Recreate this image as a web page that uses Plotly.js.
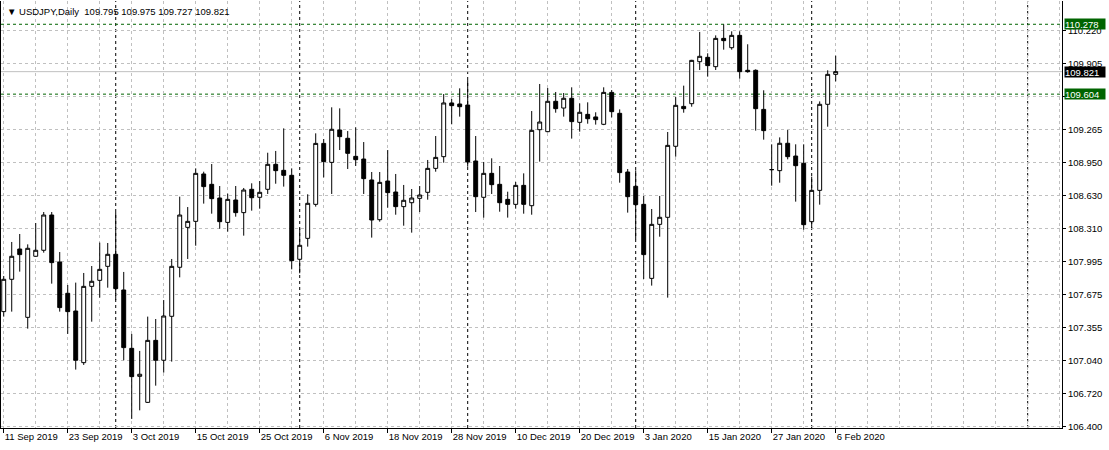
<!DOCTYPE html>
<html>
<head>
<meta charset="utf-8">
<script src="https://cdn.plot.ly/plotly-3.0.1.min.js"></script>
<style>
  html, body { margin: 0; padding: 0; background: #ffffff; }
  #chart { width: 1109px; height: 450px; }
</style>
</head>
<body>
<div id="chart"></div>
<script>
// ---------------- data ----------------
const symbol = "USDJPY";
const timeframe = "Daily";

const opens = [
  107.506, 107.818, 108.110, 107.451, 108.040, 108.098, 108.438, 107.985, 107.683, 107.512,
  107.014, 107.750, 107.808, 107.943, 108.059, 107.715, 107.152, 106.882, 106.631, 107.229,
  107.037, 107.461, 107.934, 108.319, 108.377, 108.834, 108.734, 108.602, 108.367, 108.583,
  108.461, 108.686, 108.609, 108.686, 108.927, 108.869, 108.821, 108.011, 108.213, 108.541,
  109.129, 108.946, 109.258, 109.178, 109.004, 108.978, 108.776, 108.393, 108.766, 108.660,
  108.519, 108.557, 108.599, 108.657, 108.888, 109.001, 109.519, 109.509, 109.499, 108.959,
  108.609, 108.840, 108.734, 108.589, 108.541, 108.724, 108.528, 109.261, 109.242, 109.535,
  109.470, 109.564, 109.332, 109.409, 109.384, 109.313, 109.621, 109.419, 108.853, 108.715,
  108.541, 107.827, 108.348, 108.416, 109.101, 109.486, 109.512, 109.917, 109.959, 109.869,
  110.142, 110.052, 110.171, 109.834, 109.834, 109.457, 108.876, 108.866, 109.130, 109.007,
  108.937, 108.374, 108.676, 109.506, 109.795
];
const highs = [
  107.850, 108.178, 108.255, 108.155, 108.361, 108.467, 108.467, 108.081, 107.763, 107.786,
  107.879, 107.946, 108.172, 108.168, 108.467, 107.889, 107.291, 107.127, 107.458, 107.435,
  107.618, 108.014, 108.615, 108.515, 108.888, 108.856, 108.930, 108.718, 108.644, 108.718,
  108.699, 108.744, 108.766, 109.039, 109.056, 109.274, 108.888, 108.310, 108.638, 109.226,
  109.171, 109.477, 109.467, 109.248, 109.284, 109.142, 108.853, 108.853, 109.065, 108.834,
  108.728, 108.689, 108.718, 108.969, 109.200, 109.605, 109.557, 109.660, 109.740, 109.200,
  108.950, 108.985, 108.911, 108.663, 108.757, 108.840, 109.441, 109.702, 109.663, 109.625,
  109.615, 109.670, 109.515, 109.525, 109.429, 109.670, 109.644, 109.457, 108.882, 108.869,
  108.622, 108.496, 108.622, 109.239, 109.576, 109.686, 109.935, 110.204, 109.998, 110.171,
  110.277, 110.210, 110.210, 110.085, 109.843, 109.641, 109.120, 109.187, 109.258, 109.120,
  109.120, 108.808, 109.534, 109.834, 109.975
];
const lows = [
  107.458, 107.506, 107.892, 107.342, 108.035, 108.075, 107.776, 107.506, 107.291, 106.947,
  106.992, 107.409, 107.641, 107.737, 107.618, 107.037, 106.471, 106.554, 106.625, 106.792,
  106.918, 107.024, 107.837, 108.014, 108.142, 108.548, 108.451, 108.306, 108.278, 108.422,
  108.239, 108.480, 108.499, 108.641, 108.740, 108.712, 107.914, 107.876, 108.133, 108.519,
  108.801, 108.641, 109.065, 108.882, 108.911, 108.641, 108.220, 108.374, 108.509, 108.441,
  108.335, 108.268, 108.467, 108.586, 108.856, 108.943, 109.313, 109.387, 108.904, 108.467,
  108.413, 108.641, 108.470, 108.413, 108.499, 108.451, 108.441, 108.953, 109.236, 109.425,
  109.387, 109.175, 109.242, 109.319, 109.310, 109.305, 109.380, 108.750, 108.461, 108.204,
  107.821, 107.757, 108.229, 107.641, 109.001, 109.425, 109.483, 109.837, 109.773, 109.837,
  110.033, 110.033, 109.753, 109.811, 109.252, 109.165, 108.721, 108.750, 108.975, 108.567,
  108.297, 108.310, 108.538, 109.290, 109.727
];
const closes = [
  107.818, 108.040, 108.056, 108.117, 108.098, 108.438, 107.979, 107.545, 107.506, 107.037,
  107.750, 107.799, 107.914, 108.059, 107.728, 107.159, 106.879, 106.902, 107.229, 107.037,
  107.464, 107.943, 108.438, 108.377, 108.840, 108.712, 108.596, 108.374, 108.589, 108.461,
  108.679, 108.605, 108.657, 108.927, 108.866, 108.821, 107.998, 108.146, 108.551, 109.129,
  108.953, 109.265, 109.194, 109.033, 108.972, 108.789, 108.390, 108.753, 108.654, 108.519,
  108.580, 108.602, 108.631, 108.888, 108.994, 109.519, 109.493, 109.483, 108.950, 108.615,
  108.840, 108.731, 108.557, 108.541, 108.724, 108.541, 109.255, 109.335, 109.535, 109.464,
  109.564, 109.339, 109.429, 109.367, 109.358, 109.621, 109.435, 108.847, 108.615, 108.538,
  108.056, 108.348, 108.416, 109.110, 109.496, 109.464, 109.930, 109.969, 109.879, 110.142,
  110.120, 110.171, 109.821, 109.821, 109.464, 109.252, 108.876, 109.130, 109.001, 108.914,
  108.345, 108.676, 109.506, 109.795, 109.821
];

// date labels, one every 8 bars starting at bar 0
const dateLabels = [
  "11 Sep 2019", "23 Sep 2019", "3 Oct 2019", "15 Oct 2019", "25 Oct 2019",
  "6 Nov 2019", "18 Nov 2019", "28 Nov 2019", "10 Dec 2019", "20 Dec 2019",
  "3 Jan 2020", "15 Jan 2020", "27 Jan 2020", "6 Feb 2020"
];
const dateLabelBars = [0, 8, 16, 24, 32, 40, 48, 56, 64, 72, 80, 88, 96, 104];

// monthly period separators (bar index)
const separatorBars = [14, 37, 58, 79, 101, 128];

// horizontal levels
const levelPrices = [110.278, 109.604];

// price scale (the 109.585 label is hidden under the 109.604 level tag in the reference)
const yTickVals = [106.400, 106.718, 107.037, 107.355, 107.673, 107.992, 108.310,
                   108.628, 108.947, 109.265, 109.583, 109.902, 110.220];
const yTickText = ["106.400", "106.720", "107.040", "107.355", "107.675", "107.995", "108.310",
                   "108.630", "108.950", "109.265", "", "109.905", "110.220"];

// ---------------- chart ----------------
const barIndex = opens.map((_, i) => i);
const last = opens.length - 1;
const bid = closes[last];

const FONT = "Liberation Sans, Arial, sans-serif";
const GRID = "#c0c0c0";

const minorGrid = [];
for (let b = 0; b <= 132; b += 4) minorGrid.push(b);

const trace = {
  type: "candlestick",
  x: barIndex,
  open: opens, high: highs, low: lows, close: closes,
  increasing: { line: { color: "#000000", width: 1 }, fillcolor: "#ffffff" },
  decreasing: { line: { color: "#000000", width: 1 }, fillcolor: "#000000" },
  whiskerwidth: 0,
  hoverinfo: "skip",
  showlegend: false
};

const shapes = [];
separatorBars.forEach(b => shapes.push({
  type: "line", xref: "x", yref: "paper", x0: b, x1: b, y0: 0, y1: 1,
  line: { color: "#000000", width: 1, dash: "3px,3px" }, layer: "below"
}));
levelPrices.forEach(p => shapes.push({
  type: "line", xref: "paper", yref: "y", x0: 0, x1: 1, y0: p, y1: p,
  line: { color: "#006400", width: 1, dash: "3px,3px" }, layer: "below"
}));
shapes.push({
  type: "line", xref: "paper", yref: "y", x0: 0, x1: 1, y0: bid, y1: bid,
  line: { color: "#c0c0c0", width: 1 }, layer: "below"
});

const annotations = [];
annotations.push({
  xref: "paper", yref: "paper", x: 0, y: 1, xanchor: "left", yanchor: "top",
  xshift: 4, yshift: -3, showarrow: false,
  text: "▼ " + symbol + "," + timeframe + "  " +
        [opens[last], highs[last], lows[last], closes[last]].map(v => v.toFixed(3)).join(" "),
  font: { family: FONT, size: 9.5, color: "#000000" }
});
levelPrices.forEach(p => annotations.push({
  xref: "paper", yref: "y", x: 1, y: p, xanchor: "left", yanchor: "middle",
  xshift: 2, showarrow: false, text: p.toFixed(3), align: "left",
  width: 40, height: 10, borderpad: 0, bgcolor: "#006400",
  font: { family: FONT, size: 9.5, color: "#ffffff" }
}));
annotations.push({
  xref: "paper", yref: "y", x: 1, y: bid, xanchor: "left", yanchor: "middle",
  xshift: 2, showarrow: false, text: bid.toFixed(3), align: "left",
  width: 40, height: 10, borderpad: 0, bgcolor: "#000000",
  font: { family: FONT, size: 9.5, color: "#ffffff" }
});

const layout = {
  width: 1109, height: 450,
  margin: { l: 1, r: 47, t: 1, b: 22, pad: 0 },
  paper_bgcolor: "#ffffff", plot_bgcolor: "#ffffff",
  showlegend: false,
  font: { family: FONT, size: 9.5, color: "#000000" },
  xaxis: {
    type: "linear",
    range: [-0.34, 132.29],
    tickmode: "array", tickvals: dateLabelBars, ticktext: dateLabels,
    ticks: "outside", ticklen: 4, tickcolor: "#000000",
    ticklabelposition: "outside right",
    tickfont: { family: FONT, size: 9.5, color: "#000000" },
    showgrid: true, gridcolor: GRID, griddash: "3px,3px", gridwidth: 1,
    minor: { tickmode: "array", tickvals: minorGrid, showgrid: true, gridcolor: GRID, griddash: "3px,3px", ticks: "" },
    showline: true, linecolor: "#000000", linewidth: 1,
    zeroline: false, fixedrange: true,
    rangeslider: { visible: false }
  },
  yaxis: {
    side: "right",
    range: [106.3836, 110.5025],
    tickmode: "array", tickvals: yTickVals, ticktext: yTickText,
    ticks: "outside", ticklen: 3, tickcolor: "#000000",
    tickfont: { family: FONT, size: 9.5, color: "#000000" },
    showgrid: true, gridcolor: GRID, griddash: "3px,3px", gridwidth: 1,
    showline: true, linecolor: "#000000", linewidth: 1, mirror: true,
    zeroline: false, fixedrange: true
  },
  shapes: shapes,
  annotations: annotations
};

Plotly.newPlot("chart", [trace], layout, { staticPlot: true, displayModeBar: false });
</script>
</body>
</html>
